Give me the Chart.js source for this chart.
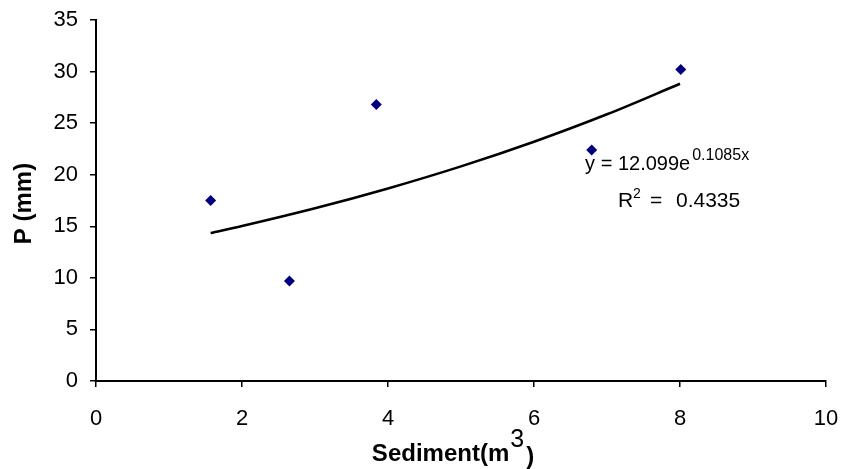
<!DOCTYPE html>
<html>
<head>
<meta charset="utf-8">
<script src="https://cdn.jsdelivr.net/npm/chart.js@4/dist/chart.umd.min.js"></script>
<style>
  html, body { margin: 0; padding: 0; background: #fff; }
  #wrap { width: 841px; height: 469px; }
</style>
</head>
<body>
<div id="wrap"><canvas id="chart" width="841" height="469"></canvas></div>
<script>
// measured points (Sediment m3 vs P mm)
const sediment = [1.57, 2.65, 3.84, 6.79, 8.01];
const pValues  = [17.5, 9.7, 26.8, 22.4, 30.2];

// trendline (exponential fit)
const trendX = [1.57, 2, 3, 4, 5, 6, 7, 8];
const trendY = [14.35, 15.03, 16.75, 18.67, 20.81, 23.2, 25.86, 28.82];

const equationText = 'y = 12.099e';
const equationSup  = '0.1085x';
const r2Text       = '0.4335';

const FONT = '"Liberation Sans", Arial, sans-serif';

const textPlugin = {
    id: 'texts',
    afterDraw(chart) {
        const ctx = chart.ctx;
        const xs = chart.scales.x, ys = chart.scales.y;
        ctx.save();
        ctx.fillStyle = '#000';
        ctx.textBaseline = 'alphabetic';
        ctx.textAlign = 'left';

        // equation
        let x0 = xs.getPixelForValue(6.70);
        let y0 = ys.getPixelForValue(20.5);
        ctx.font = '20px ' + FONT;
        ctx.fillText(equationText, x0, y0);
        let w = ctx.measureText(equationText).width;
        ctx.font = '16px ' + FONT;
        ctx.fillText(equationSup, x0 + w + 2, y0 - 10);

        // R2
        let x1 = xs.getPixelForValue(7.15);
        let y1 = ys.getPixelForValue(16.85);
        ctx.font = '21px ' + FONT;
        ctx.fillText('R', x1, y1);
        w = ctx.measureText('R').width;
        ctx.font = '14px ' + FONT;
        ctx.fillText('2', x1 + w, y1 - 9);
        ctx.font = '21px ' + FONT;
        ctx.fillText('=', x1 + 32, y1);
        ctx.fillText(r2Text, x1 + 58, y1);

        // x axis title
        ctx.font = 'bold 24px ' + FONT;
        const t1 = 'Sediment(m';
        const w1 = ctx.measureText(t1).width;
        ctx.font = '25px ' + FONT;
        const w2 = ctx.measureText('3').width;
        ctx.font = 'bold 24px ' + FONT;
        const w3 = ctx.measureText(')').width;
        const total = w1 + w2 + w3 + 3;
        let tx = 453 - total / 2;
        const ty = 461;
        ctx.fillText(t1, tx, ty);
        ctx.font = '25px ' + FONT;
        ctx.fillText('3', tx + w1 + 1, ty - 14);
        ctx.font = 'bold 24px ' + FONT;
        ctx.fillText(')', tx + w1 + w2 + 3, ty + 3);

        // y axis title
        ctx.translate(24, (chart.chartArea.top + chart.chartArea.bottom) / 2 + 3);
        ctx.rotate(-Math.PI / 2);
        ctx.textAlign = 'center';
        ctx.textBaseline = 'middle';
        ctx.font = 'bold 24px ' + FONT;
        ctx.fillText('P (mm)', 0, 0);
        ctx.restore();
    }
};

new Chart(document.getElementById('chart'), {
    type: 'scatter',
    data: {
        datasets: [
            {
                label: 'P',
                data: sediment.map((x, i) => ({ x: x, y: pValues[i] })),
                pointStyle: 'rectRot',
                pointRadius: 5.5,
                backgroundColor: '#000080',
                borderColor: '#000080',
                borderWidth: 0,
                showLine: false
            },
            {
                label: 'trend',
                type: 'line',
                data: trendX.map((x, i) => ({ x: x, y: trendY[i] })),
                borderColor: '#000',
                borderWidth: 2.5,
                pointRadius: 0,
                cubicInterpolationMode: 'monotone',
                fill: false
            }
        ]
    },
    options: {
        responsive: false,
        animation: false,
        devicePixelRatio: 1,
        layout: { padding: { top: 20, right: 15, left: 0, bottom: 0 } },
        plugins: {
            legend: { display: false },
            tooltip: { enabled: false }
        },
        scales: {
            x: {
                type: 'linear',
                min: 0, max: 10,
                afterFit: (s) => { s.height = 88; s.paddingLeft = 0; s.paddingRight = 0; },
                ticks: { stepSize: 2, color: '#000', padding: 19, font: { family: FONT, size: 22 } },
                grid: { drawOnChartArea: false, drawTicks: true, tickLength: 6, color: '#000', lineWidth: 1.5 },
                border: { display: true, color: '#000', width: 2 }
            },
            y: {
                min: 0, max: 35,
                afterFit: (s) => { s.width = 96; s.paddingTop = 0; s.paddingBottom = 0; },
                ticks: { stepSize: 5, color: '#000', padding: 12, font: { family: FONT, size: 22 } },
                grid: { drawOnChartArea: false, drawTicks: true, tickLength: 6, color: '#000', lineWidth: 1.5 },
                border: { display: true, color: '#000', width: 2 }
            }
        }
    },
    plugins: [textPlugin]
});
</script>
</body>
</html>
